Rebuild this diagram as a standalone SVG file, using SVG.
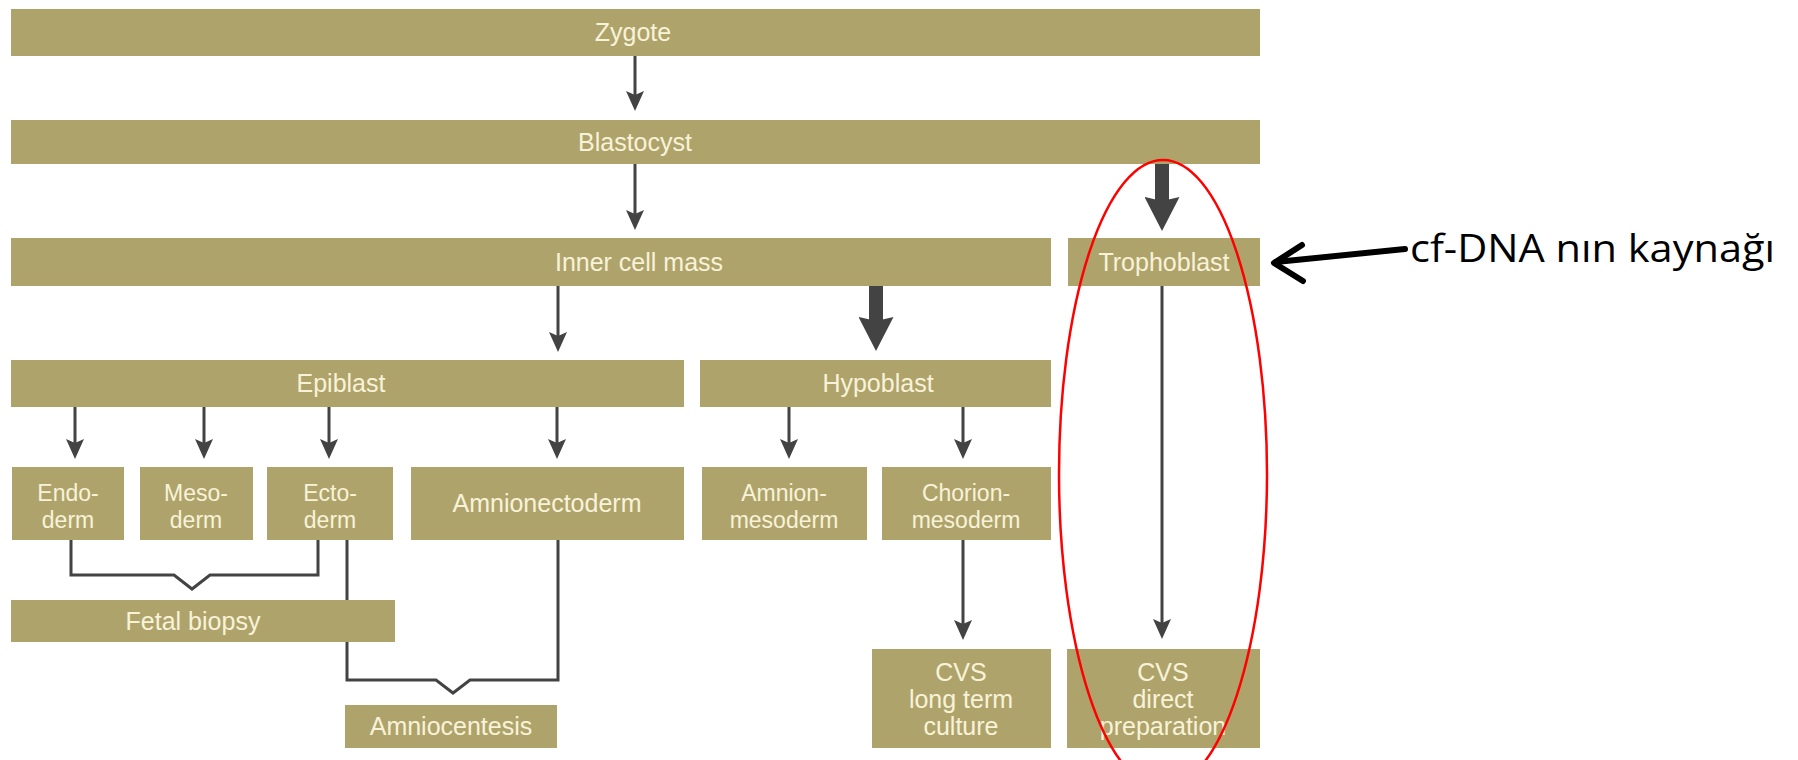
<svg xmlns="http://www.w3.org/2000/svg" width="1798" height="760" viewBox="0 0 1798 760">
<defs>
<style>
.box{fill:#afa36c}
.lbl{font-family:"Liberation Sans",Arial,sans-serif;font-size:25px;fill:#f8f3d8;text-anchor:middle}
.lbl2{font-family:"Liberation Sans",Arial,sans-serif;font-size:23px;fill:#f8f3d8;text-anchor:middle}
.conn{stroke:#434343;stroke-width:3;fill:none}
.thick{stroke:#434343;stroke-width:14;fill:none}
.bracket{stroke:#434343;stroke-width:3;fill:none;stroke-linejoin:miter}
</style>
<marker id="ah" markerUnits="userSpaceOnUse" markerWidth="20" markerHeight="18" viewBox="0 0 20 18" refX="12" refY="9" orient="auto">
<path d="M0,0 L20,9 L0,18 L4,9 Z" fill="#434343"/>
</marker>
<marker id="ahThick" markerUnits="userSpaceOnUse" markerWidth="34" markerHeight="35" viewBox="0 0 34 35" refX="4" refY="17.5" orient="auto">
<path d="M0,0 L34,17.5 L0,35 L4,17.5 Z" fill="#434343"/>
</marker>
</defs>
<rect width="1798" height="760" fill="#ffffff"/>

<g id="connectors">
<line class="conn" x1="635" y1="56" x2="635" y2="103" marker-end="url(#ah)"/>
<line class="conn" x1="635" y1="164" x2="635" y2="222" marker-end="url(#ah)"/>
<line class="thick" x1="1162" y1="164" x2="1162" y2="201" marker-end="url(#ahThick)"/>
<line class="conn" x1="558" y1="286" x2="558" y2="344" marker-end="url(#ah)"/>
<line class="thick" x1="876" y1="286" x2="876" y2="321" marker-end="url(#ahThick)"/>
<line class="conn" x1="1162" y1="286" x2="1162" y2="631" marker-end="url(#ah)"/>
<line class="conn" x1="75" y1="407" x2="75" y2="451" marker-end="url(#ah)"/>
<line class="conn" x1="204" y1="407" x2="204" y2="451" marker-end="url(#ah)"/>
<line class="conn" x1="329" y1="407" x2="329" y2="451" marker-end="url(#ah)"/>
<line class="conn" x1="557" y1="407" x2="557" y2="451" marker-end="url(#ah)"/>
<line class="conn" x1="789" y1="407" x2="789" y2="451" marker-end="url(#ah)"/>
<line class="conn" x1="963" y1="407" x2="963" y2="451" marker-end="url(#ah)"/>
<line class="conn" x1="963" y1="540" x2="963" y2="632" marker-end="url(#ah)"/>
<path class="bracket" d="M71,540 V575 H174 L192,589 L210,575 H318 V540"/>
<path class="bracket" d="M347,540 V680 H436 L453,693 L470,680 H558 V540"/>
</g>

<g id="zygote"><rect class="box" x="11" y="9" width="1249" height="47"/><text class="lbl" x="633" y="41">Zygote</text></g>
<g id="blastocyst"><rect class="box" x="11" y="120" width="1249" height="44"/><text class="lbl" x="635" y="151">Blastocyst</text></g>
<g id="inner-cell-mass"><rect class="box" x="11" y="238" width="1040" height="48"/><text class="lbl" x="639" y="271">Inner cell mass</text></g>
<g id="trophoblast"><rect class="box" x="1068" y="238" width="192" height="48"/><text class="lbl" x="1164" y="271">Trophoblast</text></g>
<g id="epiblast"><rect class="box" x="11" y="360" width="673" height="47"/><text class="lbl" x="341" y="392">Epiblast</text></g>
<g id="hypoblast"><rect class="box" x="700" y="360" width="351" height="47"/><text class="lbl" x="878" y="392">Hypoblast</text></g>
<g id="endoderm"><rect class="box" x="12" y="467" width="112" height="73"/><text class="lbl2" x="68" y="501">Endo-</text><text class="lbl2" x="68" y="528">derm</text></g>
<g id="mesoderm"><rect class="box" x="140" y="467" width="113" height="73"/><text class="lbl2" x="196" y="501">Meso-</text><text class="lbl2" x="196" y="528">derm</text></g>
<g id="ectoderm"><rect class="box" x="267" y="467" width="126" height="73"/><text class="lbl2" x="330" y="501">Ecto-</text><text class="lbl2" x="330" y="528">derm</text></g>
<g id="amnionectoderm"><rect class="box" x="411" y="467" width="273" height="73"/><text class="lbl" x="547" y="512">Amnionectoderm</text></g>
<g id="amnion-mesoderm"><rect class="box" x="702" y="467" width="165" height="73"/><text class="lbl2" x="784" y="501">Amnion-</text><text class="lbl2" x="784" y="528">mesoderm</text></g>
<g id="chorion-mesoderm"><rect class="box" x="882" y="467" width="169" height="73"/><text class="lbl2" x="966" y="501">Chorion-</text><text class="lbl2" x="966" y="528">mesoderm</text></g>
<g id="fetal-biopsy"><rect class="box" x="11" y="600" width="384" height="42"/><text class="lbl" x="193" y="630">Fetal biopsy</text></g>
<g id="amniocentesis"><rect class="box" x="345" y="705" width="212" height="43"/><text class="lbl" x="451" y="735">Amniocentesis</text></g>
<g id="cvs-long-term"><rect class="box" x="872" y="649" width="179" height="99"/><text class="lbl" x="961" y="681">CVS</text><text class="lbl" x="961" y="708">long term</text><text class="lbl" x="961" y="735">culture</text></g>
<g id="cvs-direct"><rect class="box" x="1067" y="649" width="193" height="99"/><text class="lbl" x="1163" y="681">CVS</text><text class="lbl" x="1163" y="708">direct</text><text class="lbl" x="1163" y="735">preparation</text></g>

<g id="annotation">
<ellipse cx="1163" cy="474" rx="104" ry="314" fill="none" stroke="#ff0000" stroke-width="2.5"/>
<path d="M1405,249 L1276,262" stroke="#000" stroke-width="6" stroke-linecap="round" fill="none"/>
<path d="M1302,245 L1274,263 L1303,281" stroke="#000" stroke-width="6" stroke-linecap="round" stroke-linejoin="round" fill="none"/>
<text x="1410" y="262" font-family="'Open Sans','Noto Sans',sans-serif" font-size="39" fill="#000" textLength="365" lengthAdjust="spacingAndGlyphs">cf-DNA nın kaynağı</text>
</g>
</svg>
